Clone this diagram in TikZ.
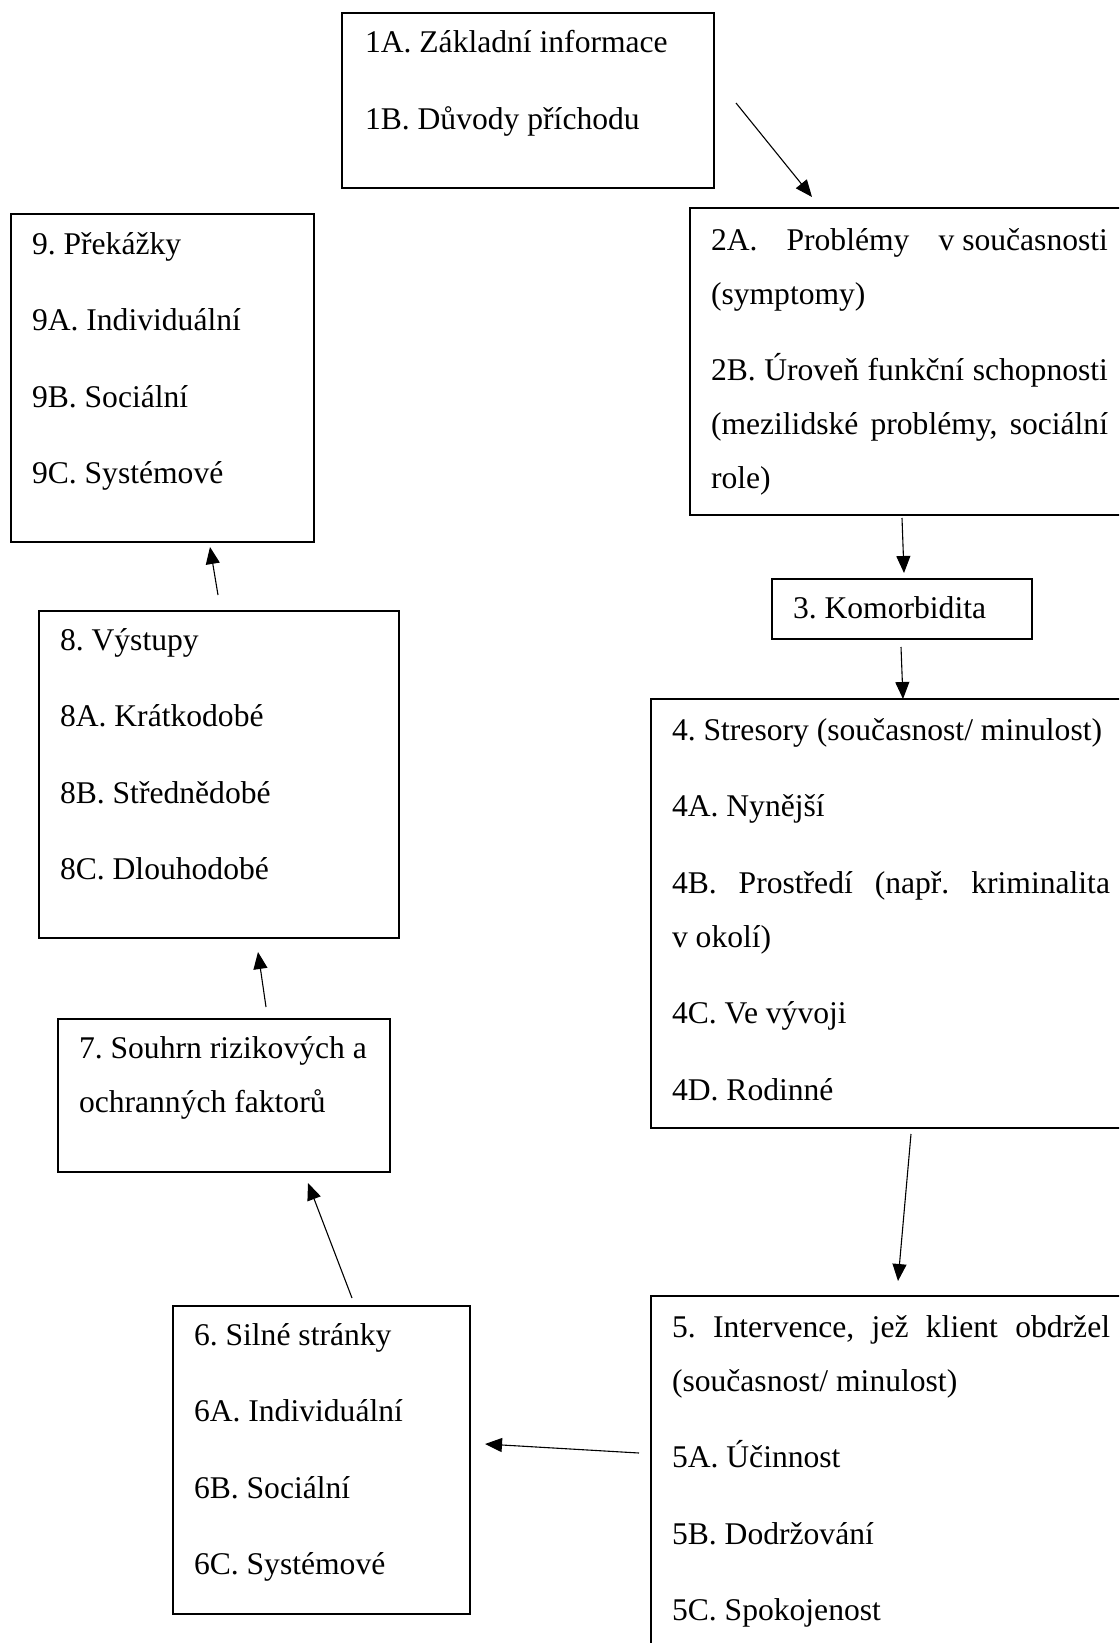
\documentclass[tikz,border=0pt]{standalone}
\usepackage{fontspec}
\setmainfont{Liberation Serif}
\usetikzlibrary{arrows.meta,calc}
\frenchspacing

% stretched (justified) line of a given width
\newcommand{\jl}[2]{\makebox[#1]{#2}}
% gap between paragraphs
\newcommand{\pgap}{\\[22.5pt]}

\tikzset{
  box/.style={draw, line width=1.6pt, inner sep=0pt, outer sep=0pt, anchor=north west},
  txt/.style={anchor=base west, inner sep=0pt, outer sep=0pt,
              font=\fontsize{31.6}{54}\selectfont},
  arr/.style={line width=1.1pt, -{Triangle[length=17pt,width=14pt]}},
}

\begin{document}
\begin{tikzpicture}[x=1pt,y=-1pt]
\useasboundingbox (0,0) rectangle (1119,1643);
\clip (0,0) rectangle (1119,1643);

% boxes
\node[box, minimum width=372pt, minimum height=175pt] (b1) at (342,13) {};
\node[box, minimum width=450pt, minimum height=307pt] (b2) at (690,208) {};
\node[box, minimum width=260pt, minimum height=60pt]  (b3) at (772,579) {};
\node[box, minimum width=489pt, minimum height=429pt] (b4) at (651,699) {};
\node[box, minimum width=489pt, minimum height=380pt] (b5) at (651,1296) {};
\node[box, minimum width=297pt, minimum height=308pt] (b6) at (173,1306) {};
\node[box, minimum width=332pt, minimum height=153pt] (b7) at (58,1019) {};
\node[box, minimum width=360pt, minimum height=327pt] (b8) at (39,611) {};
\node[box, minimum width=303pt, minimum height=328pt] (b9) at (11,214) {};

% texts
\node[txt] (t1) at (365,53) {\parbox[t]{470pt}{%
  1A. Základní informace\pgap
  1B. Důvody příchodu}};

\node[txt] (t2) at (711,250) {\parbox[t]{470pt}{%
  \jl{397pt}{2A.\hfill Problémy\hfill \mbox{v současnosti}}\\
  (symptomy)\pgap
  \jl{397pt}{2B.\hfill Úroveň\hfill funkční\hfill schopnosti}\\
  \jl{397pt}{(mezilidské\hfill problémy,\hfill sociální}\\
  role)}};

\node[txt] (t3) at (793,618) {3. Komorbidita};

\node[txt] (t4) at (672,740) {\parbox[t]{470pt}{%
  4. Stresory (současnost/ minulost)\pgap
  4A. Nynější\pgap
  \jl{438pt}{4B.\hfill Prostředí\hfill (např.\hfill kriminalita}\\
  v okolí)\pgap
  4C. Ve vývoji\pgap
  4D. Rodinné}};

\node[txt] (t5) at (672,1337) {\parbox[t]{470pt}{%
  \jl{438pt}{5.\hfill Intervence,\hfill jež\hfill klient\hfill obdržel}\\
  (současnost/ minulost)\pgap
  5A. Účinnost\pgap
  5B. Dodržování\pgap
  5C. Spokojenost}};

\node[txt] (t6) at (194,1345) {\parbox[t]{470pt}{%
  6. Silné stránky\pgap
  6A. Individuální\pgap
  6B. Sociální\pgap
  6C. Systémové}};

\node[txt] (t7) at (79,1058) {\parbox[t]{470pt}{%
  7. Souhrn rizikových a\\
  ochranných faktorů}};

\node[txt] (t8) at (60,650) {\parbox[t]{470pt}{%
  8. Výstupy\pgap
  8A. Krátkodobé\pgap
  8B. Střednědobé\pgap
  8C. Dlouhodobé}};

\node[txt] (t9) at (32,254) {\parbox[t]{470pt}{%
  9. Překážky\pgap
  9A. Individuální\pgap
  9B. Sociální\pgap
  9C. Systémové}};

% connectors
\draw[arr] ($(b1.east)+(22,2.5)$) -- ($(b2.north west)+(122,-11)$);
\draw[arr] ($(b2.south west)+(212,3)$) -- ($(b3.north)+(2,-6)$);
\draw[arr] ($(b3.south)+(-1,8)$) -- ($(b4.north west)+(252,0)$);
\draw[arr] ($(b4.south west)+(260,6)$) -- ($(b5.north west)+(247,-15)$);
\draw[arr] ($(b5.north west)+(-12,157)$) -- ($(b6.north east)+(15,138)$);
\draw[arr] ($(b6.north west)+(179,-8)$) -- ($(b7.south west)+(250,11)$);
\draw[arr] ($(b7.north west)+(208,-12)$) -- ($(b8.south west)+(219,14)$);
\draw[arr] ($(b8.north west)+(179,-16)$) -- ($(b9.south west)+(199,5)$);
\end{tikzpicture}
\end{document}
